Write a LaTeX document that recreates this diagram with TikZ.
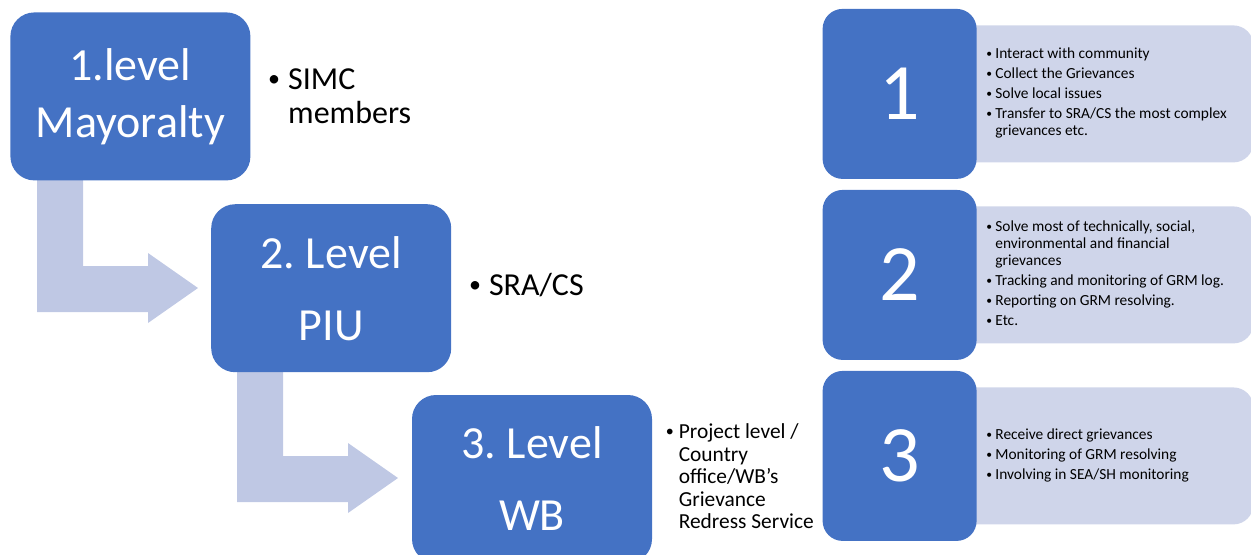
\documentclass[tikz,border=0pt]{standalone}
\usepackage{fontspec}
\usepackage{graphicx}
\setmainfont{Carlito}
\usetikzlibrary{positioning}

\definecolor{lvblue}{HTML}{4472C4}
\definecolor{lvpale}{HTML}{CFD5EA}
\definecolor{lvarrow}{HTML}{BFC8E4}

\tikzset{
  levelbox/.style={fill=lvblue, rounded corners=12pt, minimum width=120pt, minimum height=84pt,
    text=white, align=center, inner sep=0pt},
  numbox/.style={fill=lvblue, rounded corners=10pt, minimum width=77pt, minimum height=85pt,
    text=white, inner sep=0pt, font=\fontsize{40}{40}\selectfont},
  palebox/.style={fill=lvpale, rounded corners=10pt, minimum width=151.5pt, minimum height=68.5pt,
    inner sep=0pt},
  member/.style={inner sep=0pt, font=\fontsize{16}{17}\selectfont},
  duty/.style={inner sep=0pt, font=\fontsize{7.7}{8.5}\selectfont},
}
\frenchspacing
% small bullet in a box of given width
\newcommand{\lvbul}[1]{\makebox[#1][l]{\raisebox{.08em}{\scalebox{.75}{\textbullet}}}}

\begin{document}
\begin{tikzpicture}[x=0.5pt, y=-0.5pt]

    \useasboundingbox (0,0) rectangle (1251,554);
    \clip (0,0) rectangle (1251,554);

    % bent arrows between the levels
    \foreach \dx/\dy in {0/0, 200/190}
        \fill[lvarrow, shift={(\dx,\dy)}] (37,170)--(83,170)--(83,266)--(148,266)--(148,253)
            --(198,288)--(148,323)--(148,312)--(37,312)--cycle;

    % the three levels
    \node[levelbox, anchor=north west, font=\fontsize{23}{28.5}\selectfont] (lv1) at (10,12)
        {1.level\\Mayoralty};
    \node[levelbox, below right=11.5pt and -20pt of lv1, font=\fontsize{23}{36}\selectfont] (lv2)
        {2. Level\\PIU};
    \node[levelbox, below right=11pt and -20pt of lv2, font=\fontsize{23}{36}\selectfont] (lv3)
        {3. Level\\WB};

    \node[member, right=8.5pt of lv1, yshift=-1.5pt] (who1) {\begin{tabular}{@{}l@{}l@{}}
        \lvbul{10pt} & SIMC\\ & members\end{tabular}};
    \node[member, right=8.5pt of lv2] (who2) {\begin{tabular}{@{}l@{}l@{}}
        \lvbul{10pt} & SRA/CS\end{tabular}};
    \node[member, right=6.5pt of lv3, font=\fontsize{10.7}{11.25}\selectfont] (who3)
        {\begin{tabular}{@{}l@{}l@{}}
        \lvbul{6.5pt} & Project level /\\ & Country\\ & office/WB’s\\ & Grievance\\ & Redress Service
        \end{tabular}};

    % duties of each level
    \node[palebox, anchor=north west] (p1) at (950,25) {};
    \node[palebox, anchor=north west] (p2) at (950,206) {};
    \node[palebox, anchor=north west] (p3) at (950,387) {};

    \node[numbox, left=-13.5pt of p1] (n1) {1};
    \node[numbox, left=-13.5pt of p2] (n2) {2};
    \node[numbox, left=-13.5pt of p3] (n3) {3};

    \node[duty, right=18pt of p1.west] (d1) {\begin{tabular}{@{}l@{}l@{}}
        \lvbul{4.5pt} & Interact with community\\[1.5pt]
        \lvbul{4.5pt} & Collect the Grievances\\[1.5pt]
        \lvbul{4.5pt} & Solve local issues\\[1.5pt]
        \lvbul{4.5pt} & Transfer to SRA/CS the most complex\\
                      & grievances etc.
        \end{tabular}};
    \node[duty, right=18pt of p2.west] (d2) {\begin{tabular}{@{}l@{}l@{}}
        \lvbul{4.5pt} & Solve most of technically, social,\\
                      & environmental and financial\\
                      & grievances\\[1.5pt]
        \lvbul{4.5pt} & Tracking and monitoring of GRM log.\\[1.5pt]
        \lvbul{4.5pt} & Reporting on GRM resolving.\\[1.5pt]
        \lvbul{4.5pt} & Etc.
        \end{tabular}};
    \node[duty, right=18pt of p3.west] (d3) {\begin{tabular}{@{}l@{}l@{}}
        \lvbul{4.5pt} & Receive direct grievances\\[1.5pt]
        \lvbul{4.5pt} & Monitoring of GRM resolving\\[1.5pt]
        \lvbul{4.5pt} & Involving in SEA/SH monitoring
        \end{tabular}};

\end{tikzpicture}
\end{document}
